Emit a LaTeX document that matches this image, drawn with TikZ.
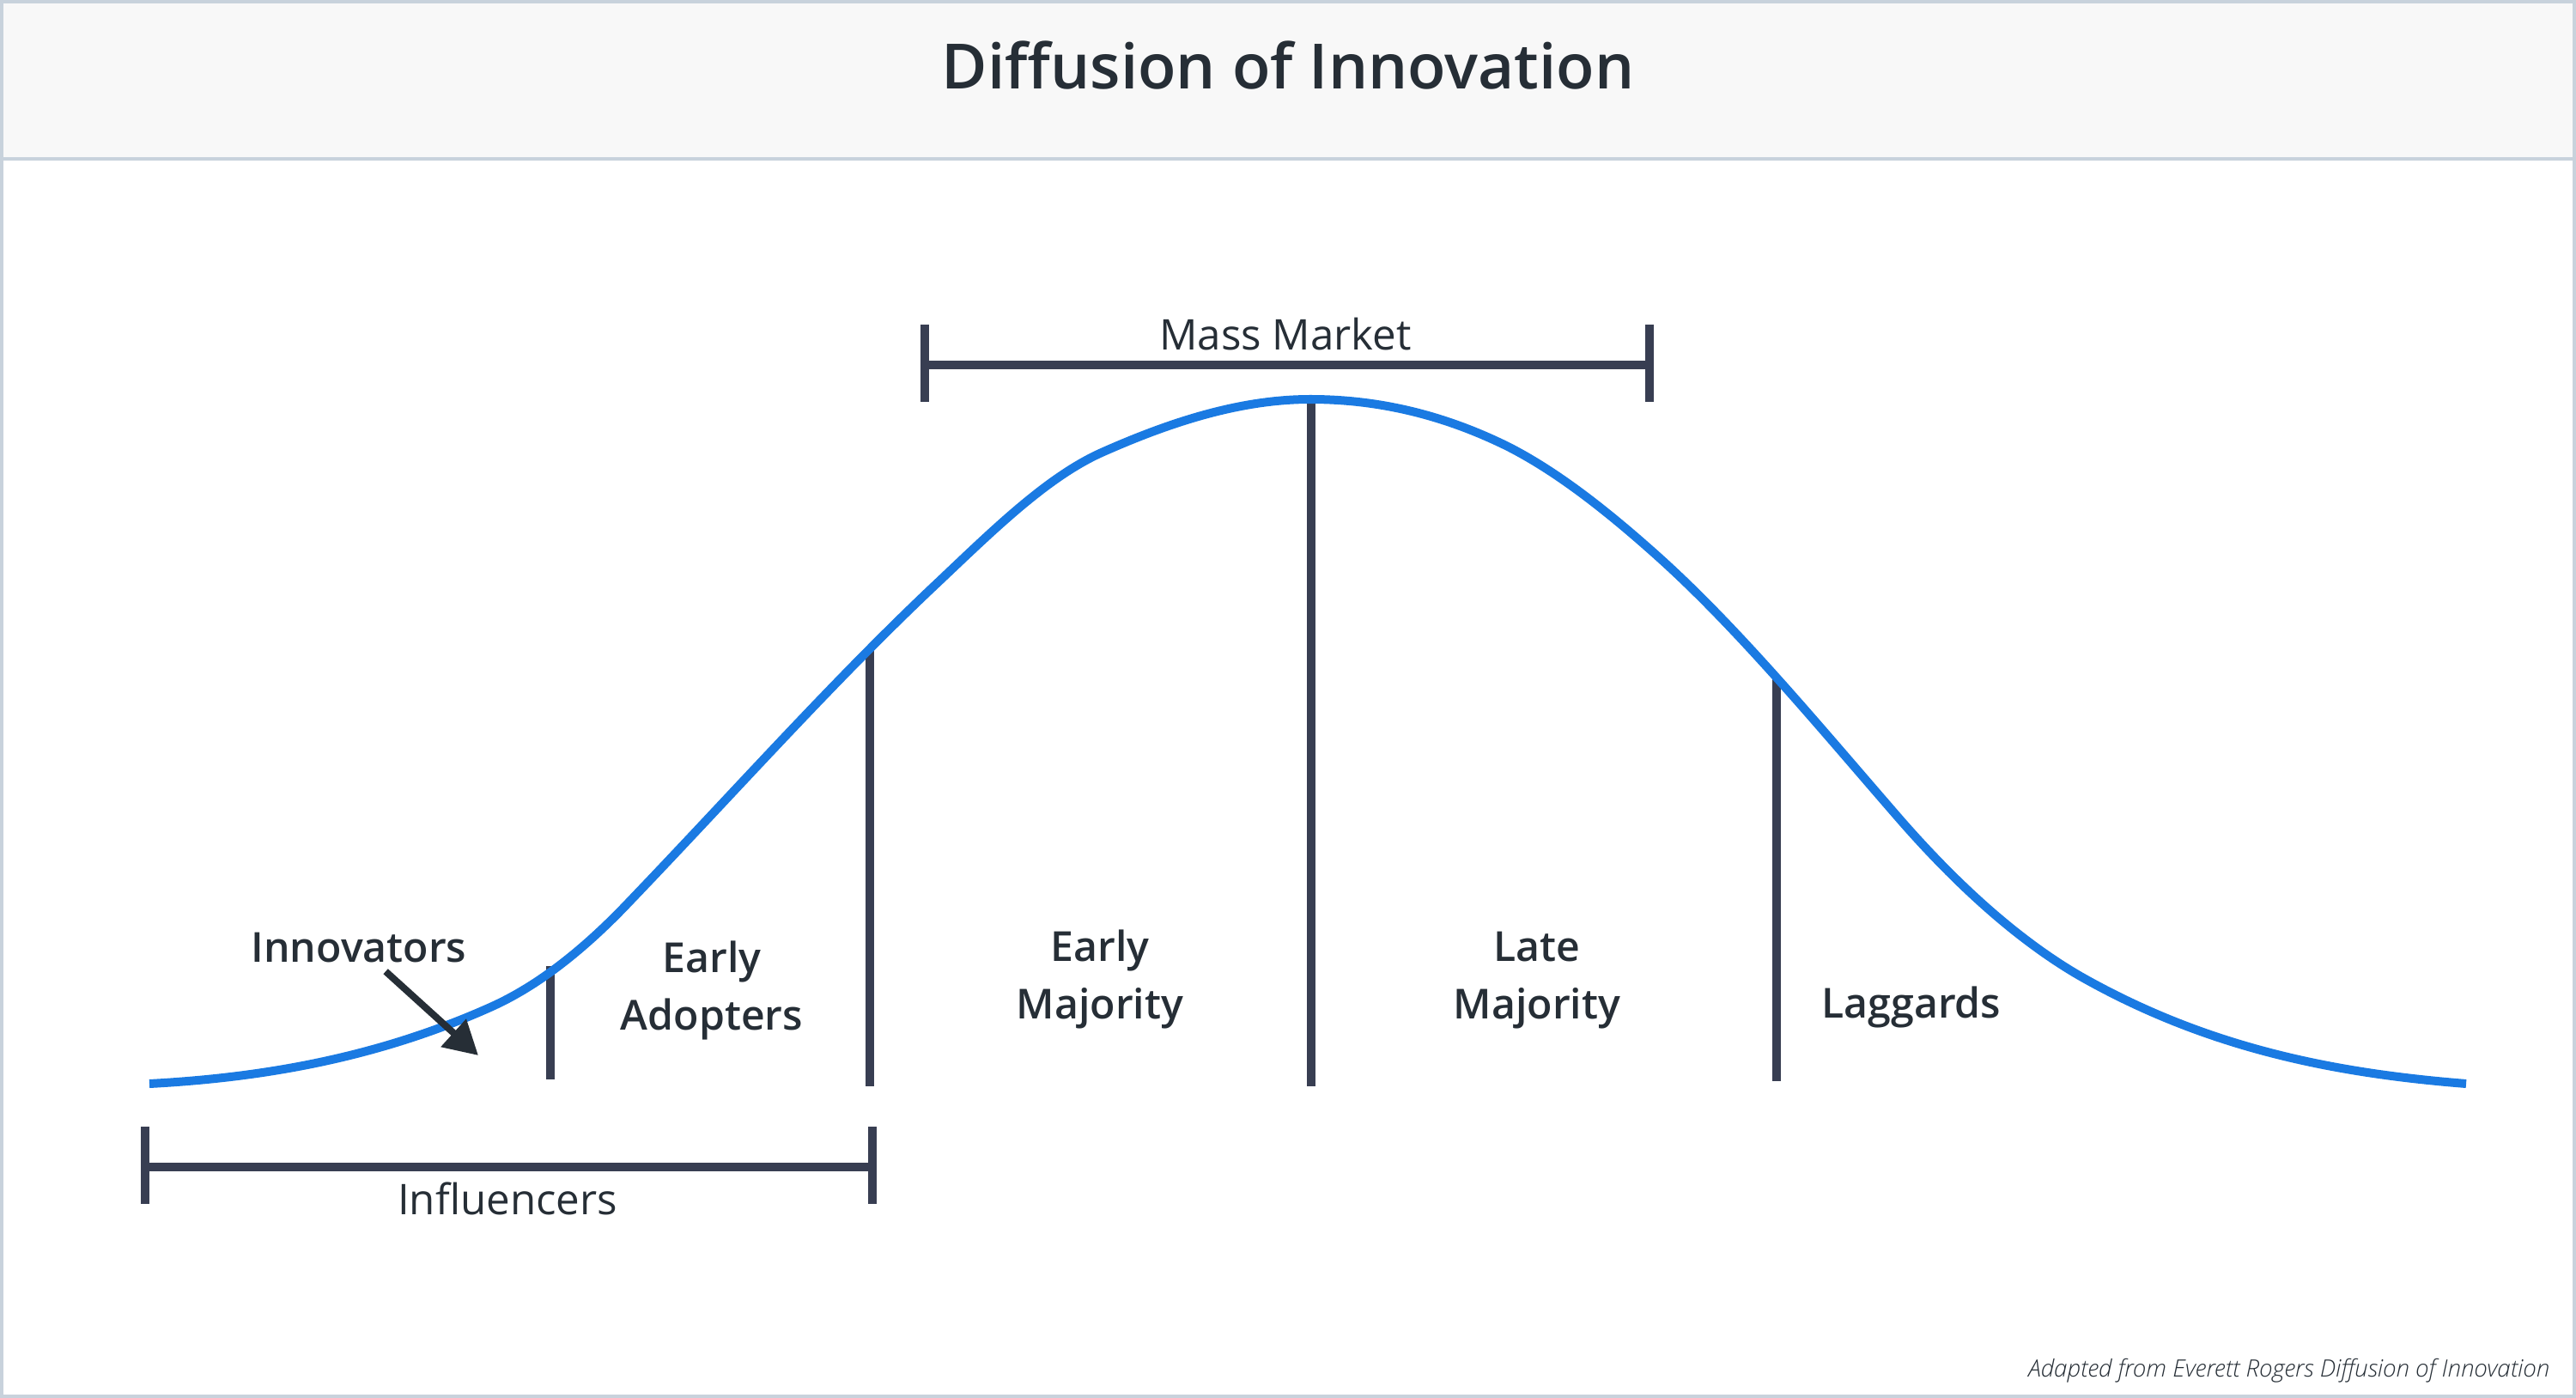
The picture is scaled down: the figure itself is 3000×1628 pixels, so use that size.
\documentclass[tikz,border=0pt]{standalone}
\usepackage{fontspec}
\setmainfont{Open Sans}
\IfFontExistsTF{Open Sans SemiBold}{\newfontfamily\semibf{Open Sans SemiBold}}{%
  \IfFontExistsTF{Open Sans Semibold}{\newfontfamily\semibf{Open Sans Semibold}}{\newcommand\semibf{\bfseries}}}
\IfFontExistsTF{Open Sans Light Italic}{\newfontfamily\lightit{Open Sans Light Italic}}{\newcommand\lightit{\itshape}}
\usetikzlibrary{arrows.meta}
\definecolor{rogersBlue}{RGB}{26,122,226}
\definecolor{rogersInk}{RGB}{38,46,54}
\definecolor{rogersSlate}{RGB}{56,62,82}
\definecolor{rogersFrame}{RGB}{200,210,220}
\definecolor{rogersBand}{RGB}{248,248,248}

\begin{document}
\begin{tikzpicture}[x=0.01cm,y=-0.01cm,
    >={Triangle[length=3.9mm,width=4.2mm]},
    headline/.style={text=rogersInk,inner sep=0pt,anchor=base,font=\fontsize{20.7}{25}\selectfont\semibf},
    lbl/.style={text=rogersInk,align=center,inner sep=0pt,anchor=base,font=\fontsize{13.7}{18.9}\selectfont\semibf},
    spanlbl/.style={text=rogersInk,inner sep=0pt,anchor=base,font=\fontsize{14}{17}\selectfont},
    srcnote/.style={text=rogersInk,inner sep=0pt,anchor=base east,font=\fontsize{7.9}{9}\selectfont\lightit},
    span/.style={draw=rogersSlate,line width=1mm},
    stage/.style={draw=rogersSlate,line width=1mm},
    bell/.style={draw=rogersBlue,line width=1mm,line join=round},
    arr/.style={->,draw=rogersInk,line width=0.8mm}]

  % frame and title band
  \useasboundingbox (0,0) rectangle (3000,1628);
  \fill[white] (0,0) rectangle (3000,1628);
  \fill[rogersBand] (0,0) rectangle (3000,185);
  \draw[rogersFrame,line width=0.4mm] (0,185) -- (3000,185);
  \draw[rogersFrame,line width=0.4mm] (2,2) rectangle (2998,1626);
  \node[headline] (ttl) at (1500,104) {Diffusion of Innovation};

  % stage dividers
  \draw[stage] (641,1125) -- (641,1257);
  \draw[stage] (1013,755) -- (1013,1265);
  \draw[stage] (1527,465) -- (1527,1265);
  \draw[stage] (2069,790) -- (2069,1259);

  % bell curve
  \draw[bell] (174,1262) .. controls (306,1255) and (439,1232) .. (571,1173)
     .. controls (625,1149) and (679,1107) .. (733,1050)
     .. controls (850,928) and (966,798) .. (1083,687)
     .. controls (1150,624) and (1216,557) .. (1283,527)
     .. controls (1364,491) and (1445,465) .. (1526,465)
     .. controls (1603,465) and (1679,482) .. (1756,520)
     .. controls (1815,550) and (1874,597) .. (1933,650)
     .. controls (2025,733) and (2117,844) .. (2209,950)
     .. controls (2280,1032) and (2352,1096) .. (2423,1137)
     .. controls (2573,1222) and (2722,1250) .. (2872,1262);

  % stage labels
  \node[lbl] (innov) at (418,1120) {Innovators};
  \node[lbl] (adopt) at (829,1199) {Early\\Adopters};
  \node[lbl] (emaj) at (1281,1186) {Early\\Majority};
  \node[lbl] (lmaj) at (1790,1186) {Late\\Majority};
  \node[lbl] (lagg) at (2226,1185) {Laggards};
  \coordinate (innovTip) at (557,1229);
  \draw[arr,shorten <=1.5mm] (innov) -- (innovTip);

  % spans
  \draw[span] (1077,378) -- (1077,468) (1077,425) -- (1921,425) (1921,378) -- (1921,468);
  \node[spanlbl] (mass) at (1497,408) {Mass Market};
  \draw[span] (169,1312) -- (169,1402) (169,1359) -- (1016,1359) (1016,1312) -- (1016,1402);
  \node[spanlbl] (infl) at (591,1414) {Influencers};

  \node[srcnote] (src) at (2970,1603) {Adapted from Everett Rogers Diffusion of Innovation};
\end{tikzpicture}
\end{document}
